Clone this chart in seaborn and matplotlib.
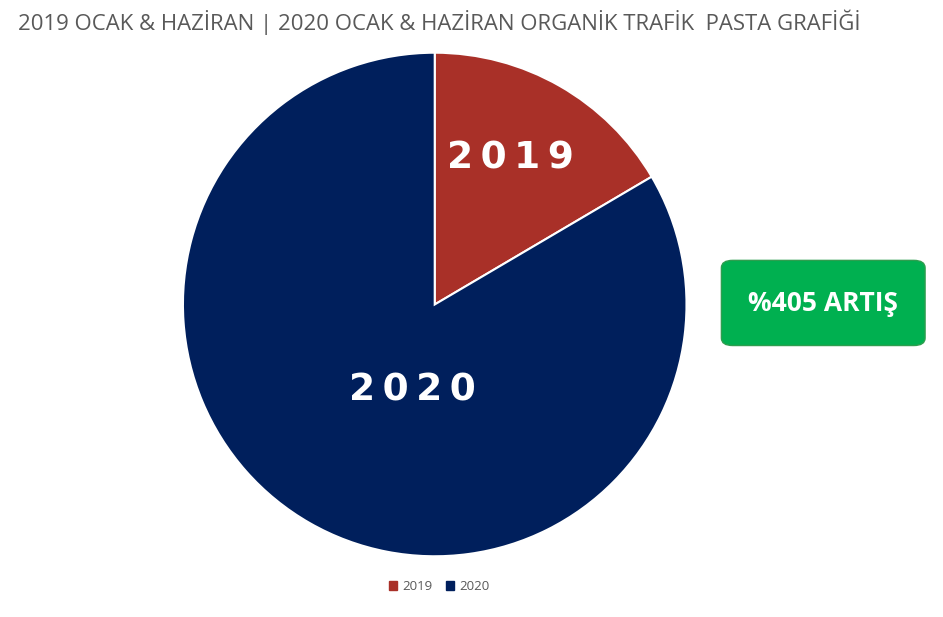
import matplotlib
matplotlib.use("Agg")
import matplotlib.pyplot as plt
import seaborn as sns
from matplotlib.patches import FancyBboxPatch, Patch

sns.set_theme(style="white")
plt.rcParams['font.family'] = ['Open Sans', 'DejaVu Sans']

years = ['2019', '2020']
traffic = [100, 505]
colors = ['#A93028', '#001F5C']
title = '2019 OCAK & HAZİRAN | 2020 OCAK & HAZİRAN ORGANİK TRAFİK  PASTA GRAFİĞİ'
badge = '%405 ARTIŞ'

fig = plt.figure(figsize=(9.43, 6.17), dpi=100)
ax = fig.add_axes([0.194, 0.098, 0.534, 0.817])
wedges, texts = ax.pie(traffic, colors=colors, startangle=90, counterclock=False,
                       wedgeprops=dict(edgecolor='white', linewidth=1.5))
ax.set_xlim(-1, 1)
ax.set_ylim(-1, 1)
ax.set_aspect('equal')

# labels inside slices
ax.text(0.3, 0.58, ' '.join(years[0]).replace(' ', '\u2009'), color='white', fontsize=27,
        fontweight='bold', ha='center', va='center', fontfamily='DejaVu Sans')
ax.text(-0.09, -0.34, ' '.join(years[1]).replace(' ', '\u2009'), color='white', fontsize=27,
        fontweight='bold', ha='center', va='center', fontfamily='DejaVu Sans')

fig.text(0.019, 0.964, title, color='#595959', fontsize=15.9, ha='left', va='center')

box = FancyBboxPatch((0.765, 0.44), 0.216, 0.138, transform=fig.transFigure,
                     boxstyle='round,pad=0,rounding_size=0.012',
                     facecolor='#00B050', edgecolor='#2E9E4F', linewidth=1)
fig.patches.append(box)
fig.text(0.873, 0.508, badge, color='white', fontsize=19, fontweight='bold',
         ha='center', va='center')

handles = [Patch(color=c, label=y) for c, y in zip(colors, years)]
fig.legend(handles=handles, loc='center', bbox_to_anchor=(0.466, 0.049), ncol=2,
           frameon=False, fontsize=9.5, handlelength=0.6, handleheight=0.6,
           handletextpad=0.4, columnspacing=1.0, labelcolor='#595959')

fig.savefig('out.png', dpi=100)
